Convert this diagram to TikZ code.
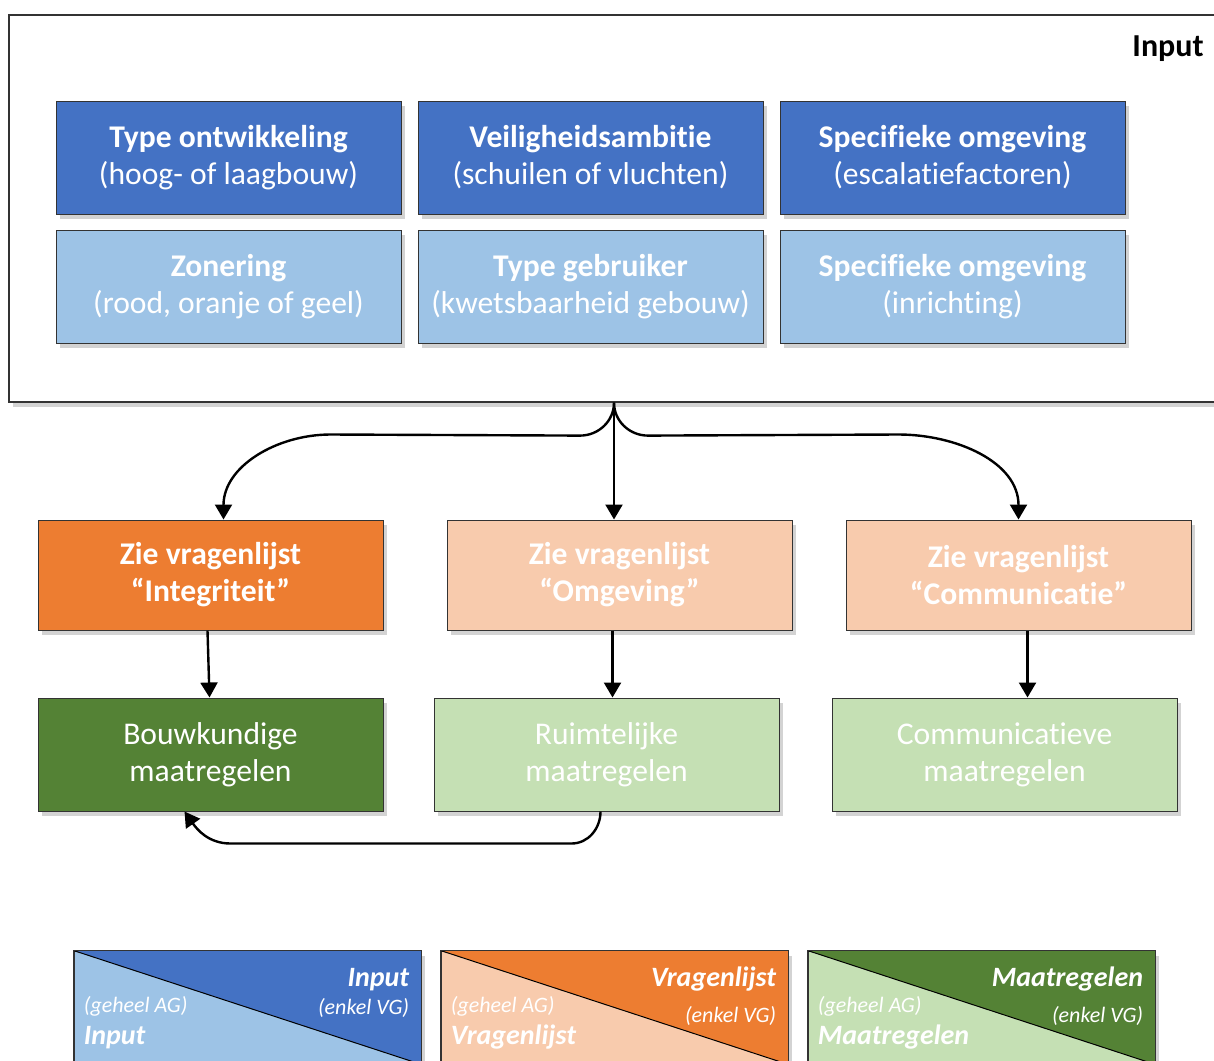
\documentclass[tikz,border=0pt]{standalone}
\usepackage{fontspec}
\setmainfont{Carlito}[Ligatures=NoCommon]
\usetikzlibrary{arrows.meta,shadows,calc}
\definecolor{donkerblauw}{HTML}{4472C4}
\definecolor{lichtblauw}{HTML}{9DC3E6}
\definecolor{donkeroranje}{HTML}{ED7D31}
\definecolor{lichtoranje}{HTML}{F8CBAD}
\definecolor{donkergroen}{HTML}{548235}
\definecolor{lichtgroen}{HTML}{C5E0B4}
\tikzset{
  schaduw/.style={drop shadow={opacity=0.35, shadow xshift=2pt, shadow yshift=-2.5pt}},
  blok/.style={draw=black!80, line width=0.5pt, schaduw, minimum width=172.5pt,
    minimum height=56.5pt, align=center, text=white, inner sep=0pt,
    font=\fontsize{15.8}{18.5}\selectfont},
  pijl/.style={-{Triangle[length=7.5pt,width=8.5pt]}, line width=1.2pt},
  legkop/.style={text=white, inner sep=0pt, font=\fontsize{14}{16}\selectfont\bfseries\itshape},
  legsub/.style={text=white, inner sep=0pt, font=\fontsize{11}{13}\selectfont\itshape}
}
\begin{document}
\begin{tikzpicture}[x=0.5pt,y=-0.5pt]
    \useasboundingbox (0,0) rectangle (1214,1060);
    \node[draw=black!80, line width=0.6pt, fill=white, schaduw, minimum width=605pt,
      minimum height=193.5pt, inner sep=0pt] (input) at (614,208.5) {};
    \node[anchor=base east, inner sep=0pt, font=\fontsize{16}{18}\selectfont\bfseries] (inputlbl) at (1204,56) {Input};

    \node[blok, fill=donkerblauw] (typeontw) at (228.5,157.5) {\textbf{Type ontwikkeling}\\(hoog- of laagbouw)};
    \node[blok, fill=donkerblauw] (veilig) at (590.5,157.5) {\textbf{Veiligheidsambitie}\\(schuilen of vluchten)};
    \node[blok, fill=donkerblauw] (omgesc) at (952.5,157.5) {\textbf{Specifieke omgeving}\\(escalatiefactoren)};
    \node[blok, fill=lichtblauw] (zonering) at (228.5,286.5) {\textbf{Zonering}\\(rood, oranje of geel)};
    \node[blok, fill=lichtblauw] (gebruiker) at (590.5,286.5) {\textbf{Type gebruiker}\\(kwetsbaarheid gebouw)};
    \node[blok, fill=lichtblauw] (omginr) at (952.5,286.5) {\textbf{Specifieke omgeving}\\(inrichting)};

    \node[blok, fill=donkeroranje, minimum height=55pt] (vlint) at (210.5,575) {\textbf{Zie vragenlijst}\\\textbf{“Integriteit”}};
    \node[blok, fill=lichtoranje, minimum height=55pt] (vlomg) at (619.5,575) {\textbf{Zie vragenlijst}\\\textbf{“Omgeving”}};
    \node[blok, fill=lichtoranje, minimum height=55pt] (vlcom) at (1018.5,575) {\textbf{Zie vragenlijst}\\\textbf{“Communicatie”}};

    \node[blok, fill=donkergroen] (bouw) at (210.5,754.5) {Bouwkundige\\maatregelen};
    \node[blok, fill=lichtgroen] (ruimte) at (606.5,754.5) {Ruimtelijke\\maatregelen};
    \node[blok, fill=lichtgroen] (commu) at (1004.5,754.5) {Communicatieve\\maatregelen};

    \draw[pijl] (input.south) to[out=-90,in=0] ($(input.south)+(-34,33)$)
      -- ($(vlint.north)+(120,-85)$) to[out=180,in=90] ([xshift=6.5pt]vlint.north);
    \draw[pijl] (input.south) -- (input.south |- vlomg.north);
    \draw[pijl] (input.south) to[out=-90,in=180] ($(input.south)+(34,33)$)
      -- ($(vlcom.north)+(-120,-85)$) to[out=0,in=90] (vlcom.north);

    \draw[pijl] ([xshift=-1.5pt]vlint.south) -- ([xshift=-0.5pt]bouw.north);
    \draw[pijl] ([xshift=-3.5pt]vlomg.south) -- ([xshift=3pt]ruimte.north);
    \draw[pijl] ([xshift=4.5pt]vlcom.south) -- ([xshift=11.5pt]commu.north);

    \draw[pijl] ([xshift=-3pt]ruimte.south) to[out=-90,in=0] ($(ruimte.south)+(-35,32)$)
      -- ($(bouw.south)+(20,32)$) to[out=180,in=-55] ([xshift=-13pt]bouw.south);

    \foreach \naam/\x/\licht/\donker/\woord/\sy in
      {leginput/247.5/lichtblauw/donkerblauw/Input/1015,
       legvragen/614.5/lichtoranje/donkeroranje/Vragenlijst/1023,
       legmaat/981.5/lichtgroen/donkergroen/Maatregelen/1023}{
      \node[draw=black!80, line width=0.5pt, fill=\licht, schaduw, minimum width=173.5pt,
        minimum height=56.5pt, inner sep=0pt] (\naam) at (\x,1007.5) {};
      \fill[\donker] (\naam.north west) -- (\naam.north east) -- (\naam.south east) -- cycle;
      \draw[line width=0.5pt] (\naam.north west) -- (\naam.south east);
      \draw[draw=black!80, line width=0.5pt] (\naam.south west) rectangle (\naam.north east);
      \node[legkop, anchor=base east] (\naam kop) at ($(\naam.north east)+(-12,36)$) {\woord};
      \node[legsub, anchor=base east] (\naam vg) at ($(\naam.north east)+(-12,\sy-951)$) {(enkel VG)};
      \node[legsub, anchor=base west] (\naam ag) at ($(\naam.north west)+(10,62)$) {(geheel AG)};
      \node[legkop, anchor=base west] (\naam tekst) at ($(\naam.north west)+(10,94)$) {\woord};
    }
\end{tikzpicture}
\end{document}
